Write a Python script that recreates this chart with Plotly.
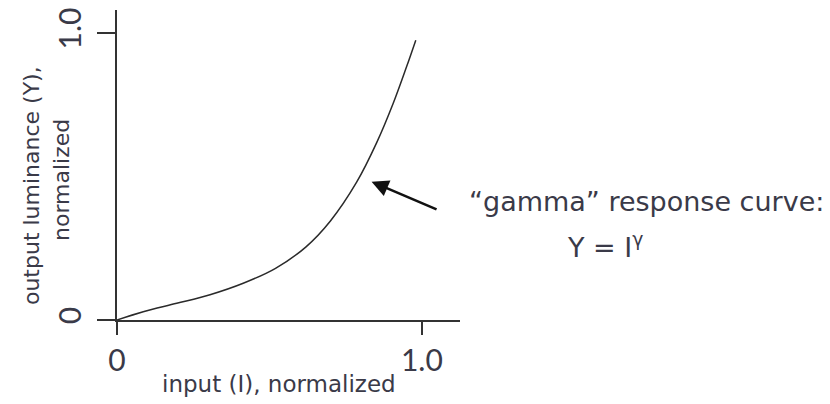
import plotly.graph_objects as go

# curve points (input I, output Y)
input_I = [0.0, 0.086, 0.196, 0.305, 0.414, 0.52, 0.62, 0.70, 0.786, 0.851, 0.906, 0.950, 0.980]
output_Y = [0.0, 0.029, 0.058, 0.088, 0.128, 0.18, 0.255, 0.345, 0.48, 0.616, 0.755, 0.883, 0.975]

tick_vals = [0, 1]
tick_text = ["0", "1.0"]

TICKFONT = "Lato, 'Open Sans', sans-serif"
FONT = "'DejaVu Sans', 'Open Sans', sans-serif"
TXT = "#3a3a48"
AX = "#333333"

fig = go.Figure()
fig.add_trace(go.Scatter(x=input_I, y=output_Y, mode="lines",
                         line=dict(color="#2a2a2a", width=1.5, shape="spline"),
                         showlegend=False, hoverinfo="skip", cliponaxis=False))

fig.update_layout(
    width=830, height=404,
    margin=dict(l=117, r=370, t=10, b=84),
    paper_bgcolor="white", plot_bgcolor="white",
    font=dict(family=FONT, color=TXT),
    xaxis=dict(range=[0, 1.125], showgrid=False, zeroline=False, automargin=False,
               showline=True, linecolor=AX, linewidth=2,
               ticks="outside", ticklen=13, tickwidth=2, tickcolor=AX,
               tickvals=tick_vals, ticktext=tick_text,
               tickfont=dict(size=30, color=TXT, family=TICKFONT)),
    yaxis=dict(range=[0, 1.08], showgrid=False, zeroline=False, automargin=False,
               showline=True, linecolor=AX, linewidth=2,
               ticks="outside", ticklen=18, tickwidth=2, tickcolor=AX,
               tickvals=tick_vals, ticktext=tick_text, tickangle=-90,
               ticklabelstandoff=4,
               tickfont=dict(size=30, color=TXT, family=TICKFONT)),
)

# axis titles
fig.add_annotation(x=0.472, y=-0.206, xref="paper", yref="paper",
                   text="input (I), normalized", showarrow=False,
                   xanchor="center", yanchor="middle",
                   font=dict(size=23, color=TXT, family=FONT))
fig.add_annotation(x=-0.251, y=0.435, xref="paper", yref="paper",
                   text="output luminance (Y),", showarrow=False,
                   textangle=-90, xanchor="center", yanchor="middle",
                   font=dict(size=22, color=TXT, family=FONT))
fig.add_annotation(x=-0.160, y=0.452, xref="paper", yref="paper",
                   text="normalized", showarrow=False,
                   textangle=-90, xanchor="center", yanchor="middle",
                   font=dict(size=22, color=TXT, family=FONT))

# arrow
fig.add_annotation(x=0.835, y=0.482, ax=1.053, ay=0.383,
                   xref="x", yref="y", axref="x", ayref="y",
                   text="", showarrow=True, arrowhead=2, arrowsize=1.3,
                   arrowwidth=2.6, arrowcolor="#111111")

# label text
fig.add_annotation(x=1.020, y=0.381, xref="paper", yref="paper",
                   text="“gamma” response curve:", showarrow=False,
                   xanchor="left", yanchor="middle",
                   font=dict(size=27, color=TXT, family=FONT))
fig.add_annotation(x=1.306, y=0.239, xref="paper", yref="paper",
                   text="Y = I<sup>γ</sup>", showarrow=False,
                   xanchor="left", yanchor="middle",
                   font=dict(size=27, color=TXT, family=FONT))

fig.write_html("out.html", config={"displayModeBar": False},
               post_script="document.body.style.margin='0';")
